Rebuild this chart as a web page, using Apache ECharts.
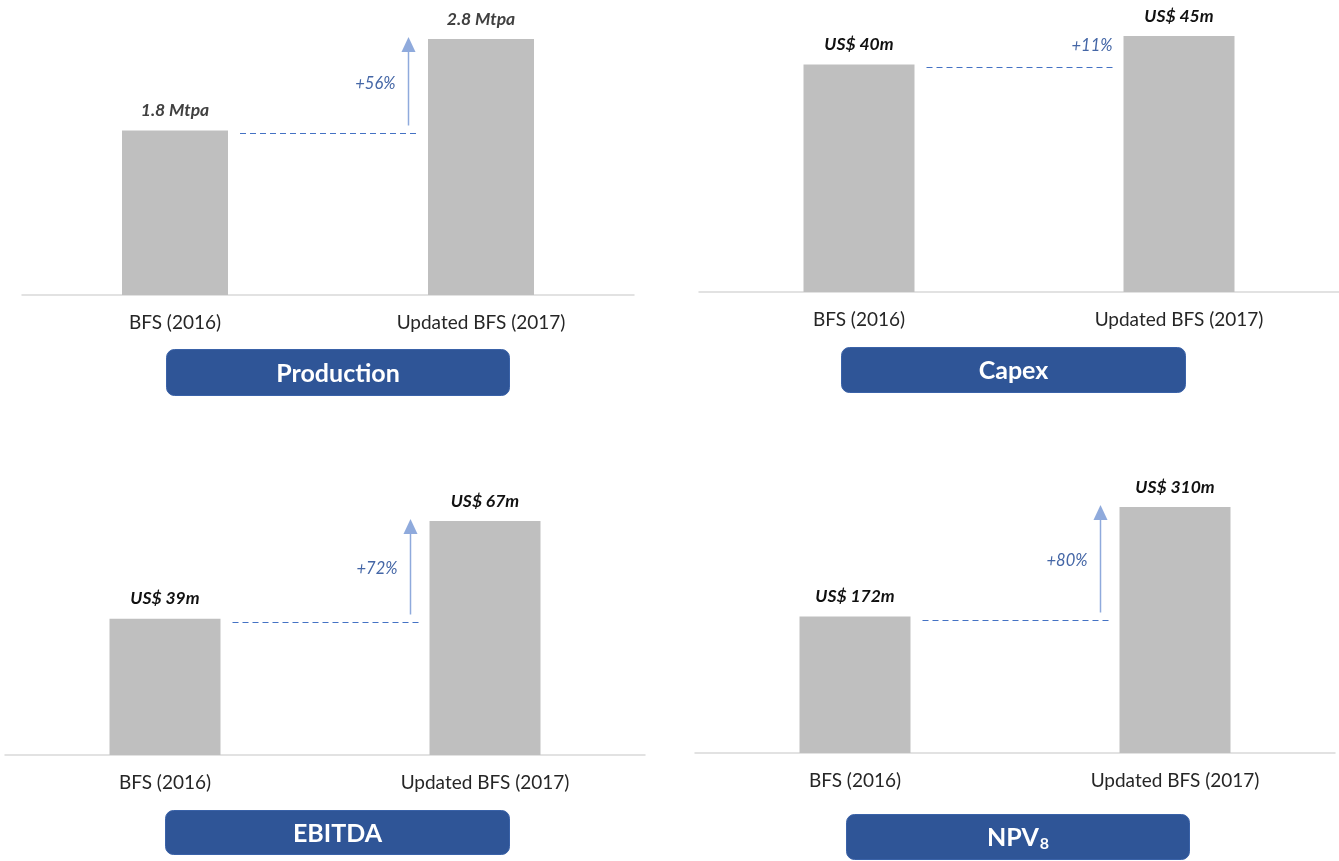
<!DOCTYPE html>
<html>
<head>
<meta charset="utf-8">
<script src="https://cdn.jsdelivr.net/npm/echarts@6/dist/echarts.min.js"></script>
<style>html,body{margin:0;padding:0;background:#fff;}#c{width:1339px;height:861px;}</style>
</head>
<body>
<div id="c"></div>
<script>
const categories = ['BFS (2016)', 'Updated BFS (2017)'];
const productionValues = [1.8, 2.8];
const capexValues = [40, 45];
const ebitdaValues = [39, 67];
const npvValues = [172, 310];
const productionLabels = ['1.8 Mtpa', '2.8 Mtpa'];
const capexLabels = ['US$ 40m', 'US$ 45m'];
const ebitdaLabels = ['US$ 39m', 'US$ 67m'];
const npvLabels = ['US$ 172m', 'US$ 310m'];
const changeLabels = ['+56%', '+11%', '+72%', '+80%'];
const titles = ['Production', 'Capex', 'EBITDA', 'NPV'];

const FONT = 'Lato, "Open Sans", sans-serif';
const panels = [
  {vals: productionValues, labels: productionLabels, max: 2.8, grid: {left: 22, right: 705, top: 39, bottom: 566}, barW: 106, arrow: true, labelColor: '#404040'},
  {vals: capexValues, labels: capexLabels, max: 45, grid: {left: 699, right: 0, top: 36, bottom: 569}, barW: 111, arrow: false, labelColor: '#111111'},
  {vals: ebitdaValues, labels: ebitdaLabels, max: 67, grid: {left: 5, right: 694, top: 521, bottom: 106}, barW: 111, arrow: true, labelColor: '#111111'},
  {vals: npvValues, labels: npvLabels, max: 310, grid: {left: 695, right: 4, top: 507, bottom: 108}, barW: 111, arrow: true, labelColor: '#111111'}
];

const grids = [], xAxes = [], yAxes = [], series = [];
panels.forEach((p, i) => {
  grids.push(Object.assign({containLabel: false}, p.grid));
  xAxes.push({
    type: 'category', gridIndex: i, data: categories,
    axisLine: {show: true, lineStyle: {color: '#d9d9d9', width: 1.5}},
    axisTick: {show: false},
    axisLabel: {color: '#262626', fontSize: 19, fontFamily: FONT, margin: 18}
  });
  yAxes.push({type: 'value', gridIndex: i, min: 0, max: p.max, show: false, splitLine: {show: false}});
  series.push({
    type: 'bar', xAxisIndex: i, yAxisIndex: i, data: p.vals, barWidth: p.barW,
    itemStyle: {color: '#bfbfbf'},
    label: {
      show: true, position: 'top', distance: 11,
      formatter: (d) => p.labels[d.dataIndex],
      fontStyle: 'italic', fontWeight: 'bold', fontSize: 17.5, fontFamily: FONT, color: p.labelColor
    },
    silent: true
  });
  series.push({
    type: 'custom', xAxisIndex: i, yAxisIndex: i,
    data: [[0, p.vals[0], p.vals[1]]],
    encode: {x: 0, y: [1, 2]},
    silent: true, z: 5,
    renderItem: function (params, api) {
      const p0 = api.coord([0, api.value(1)]);
      const p1 = api.coord([1, api.value(2)]);
      const half = p.barW / 2;
      const y = Math.round(p0[1] + 3) + 0.5;
      const xs = p0[0] + half + 12;
      const xe = p1[0] - half - 9;
      const children = [{
        type: 'line',
        shape: {x1: xs, y1: y, x2: xe, y2: y},
        style: {stroke: '#4472c4', lineWidth: 1.2, lineDash: [6, 4]}
      }];
      if (p.arrow) {
        const ax = Math.round(p1[0] - half - 20) + 0.5;
        const tip = p1[1] - 2;
        const bottom = y - 8;
        children.push({
          type: 'line', shape: {x1: ax, y1: bottom, x2: ax, y2: tip + 14},
          style: {stroke: '#8faadc', lineWidth: 1.5}
        });
        children.push({
          type: 'polygon', shape: {points: [[ax - 7, tip + 15], [ax + 7, tip + 15], [ax, tip]]},
          style: {fill: '#8faadc'}
        });
        children.push({
          type: 'text',
          style: {text: changeLabels[i], x: ax - 13, y: (bottom + tip) / 2 + 2, align: 'right', verticalAlign: 'middle',
            font: 'italic 16.5px ' + FONT, fill: '#4466a6'}
        });
      } else {
        children.push({
          type: 'text',
          style: {text: changeLabels[i], x: xe - 2, y: p1[1] + 10, align: 'right', verticalAlign: 'middle',
            font: 'italic 16.5px ' + FONT, fill: '#4466a6'}
        });
      }
      return {type: 'group', children: children};
    }
  });
});

const boxes = [
  {x: 166, y: 349, w: 343, h: 46},
  {x: 841, y: 347, w: 344, h: 45},
  {x: 165, y: 810, w: 344, h: 44},
  {x: 846, y: 814, w: 343, h: 45}
];
const graphics = boxes.map((b, i) => ({
  type: 'group', left: b.x, top: b.y,
  children: [
    {type: 'rect', shape: {x: 0, y: 0, width: b.w, height: b.h, r: 8},
      style: {fill: '#2f5597', stroke: '#3a62a8', lineWidth: 1}},
    {type: 'text', x: b.w / 2, y: b.h / 2 + 1,
      style: i === 3 ? {
        text: '{m|NPV}{s|8}', align: 'center', verticalAlign: 'middle',
        rich: {
          m: {fontSize: 25, fontWeight: 'bold', fontFamily: FONT, fill: '#ffffff', color: '#ffffff'},
          s: {fontSize: 16, fontWeight: 'bold', fontFamily: FONT, fill: '#ffffff', color: '#ffffff', padding: [12, 0, 0, 1]}
        }
      } : {
        text: titles[i], align: 'center', verticalAlign: 'middle',
        font: 'bold 25px ' + FONT, fill: '#ffffff'
      }}
  ]
}));

const chart = echarts.init(document.getElementById('c'), null, {renderer: 'canvas'});
chart.setOption({
  animation: false,
  backgroundColor: '#ffffff',
  grid: grids, xAxis: xAxes, yAxis: yAxes, series: series,
  graphic: graphics
});
</script>
</body>
</html>
